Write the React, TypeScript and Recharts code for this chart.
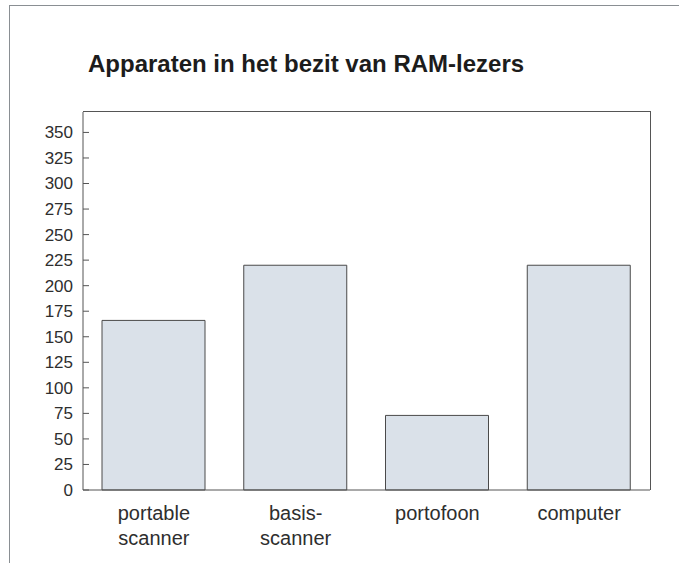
import { BarChart, Bar, XAxis, YAxis } from "recharts";

const categories = ["portable scanner", "basis-scanner", "portofoon", "computer"];
const tickLabels = [["portable", "scanner"], ["basis-", "scanner"], ["portofoon"], ["computer"]];
const counts = [166, 220, 73, 220];
const yTicks = [0, 25, 50, 75, 100, 125, 150, 175, 200, 225, 250, 275, 300, 325, 350];

const data = categories.map((name, i) => ({ name, value: counts[i] }));

const FONT = '"Liberation Sans", Arial, Helvetica, sans-serif';
const TEXT = "#2e2e2e";
const LINE = "#555";

// plot box
const PLOT_LEFT = 83;
const PLOT_TOP = 112;
const PLOT_RIGHT = 650;
const PLOT_BOTTOM = 490;

const YTick = (props: any) => {
  const { x, y, payload } = props;
  return (
    <g>
      <line x1={PLOT_LEFT} x2={PLOT_LEFT + 6} y1={y} y2={y} stroke={LINE} strokeWidth={1} />
      <text x={x} y={y} dy="0.35em" textAnchor="end" fill={TEXT} fontSize={17} fontFamily={FONT}>
        {payload.value}
      </text>
    </g>
  );
};

const XTick = (props: any) => {
  const { x, y, index } = props;
  const lines = tickLabels[index] || [];
  return (
    <g>
      {lines.map((l, i) => (
        <text key={i} x={x} y={y + 30 + i * 25} textAnchor="middle" fill={TEXT} fontSize={20} fontFamily={FONT}>
          {l}
        </text>
      ))}
    </g>
  );
};

export default function App() {
  return (
    <div style={{ position: "absolute", left: 0, top: 0, width: 679, height: 563, background: "#fff", overflow: "hidden" }}>
      <div
        style={{
          position: "absolute",
          left: 9,
          top: 5,
          width: 700,
          height: 600,
          borderTop: "1px solid #8a8f93",
          borderLeft: "1px solid #8a8f93",
        }}
      />
      <div
        style={{
          position: "absolute",
          left: 88,
          top: 52,
          fontFamily: FONT,
          fontWeight: "bold",
          fontSize: 24,
          lineHeight: "24px",
          color: "#1c1c1c",
          whiteSpace: "nowrap",
        }}
      >
        Apparaten in het bezit van RAM-lezers
      </div>
      <div style={{ position: "absolute", left: 0, top: 0 }}>
        <BarChart
          width={679}
          height={563}
          data={data}
          margin={{ top: PLOT_TOP, right: 679 - PLOT_RIGHT, bottom: 0, left: 0 }}
        >
          <XAxis
            dataKey="name"
            height={563 - PLOT_BOTTOM}
            axisLine={{ stroke: LINE, strokeWidth: 1 }}
            tickLine={false}
            tickSize={0}
            tickMargin={0}
            tick={<XTick />}
            interval={0}
          />
          <YAxis
            width={PLOT_LEFT}
            domain={[0, 370]}
            ticks={yTicks}
            interval={0}
            axisLine={{ stroke: LINE, strokeWidth: 1 }}
            tickLine={false}
            tickSize={0}
            tickMargin={10}
            tick={<YTick />}
          />
          <Bar dataKey="value" fill="#dae1e9" stroke="#4a4a4a" strokeWidth={1} barSize={103} isAnimationActive={false} />
        </BarChart>
      </div>
      {/* top and right edges of the plot box */}
      <div
        style={{
          position: "absolute",
          left: PLOT_LEFT,
          top: PLOT_TOP - 1,
          width: PLOT_RIGHT - PLOT_LEFT,
          height: PLOT_BOTTOM - PLOT_TOP,
          borderTop: `1px solid ${LINE}`,
          borderRight: `1px solid ${LINE}`,
          pointerEvents: "none",
        }}
      />
    </div>
  );
}
